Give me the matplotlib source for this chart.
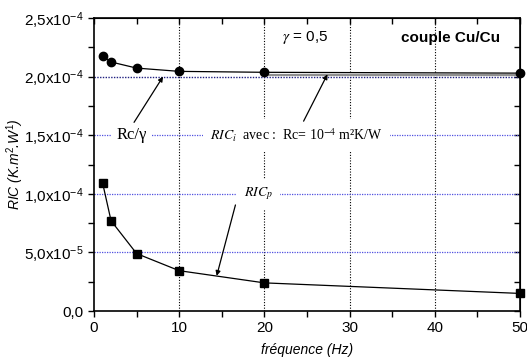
import matplotlib
matplotlib.use("Agg")
import matplotlib.pyplot as plt
from matplotlib.ticker import FixedLocator, MultipleLocator

plt.rcParams['font.family'] = ['Liberation Sans', 'DejaVu Sans']
plt.rcParams['mathtext.fontset'] = 'custom'
plt.rcParams['mathtext.rm'] = 'Liberation Sans'
plt.rcParams['mathtext.it'] = 'Liberation Sans:italic'
plt.rcParams['mathtext.bf'] = 'Liberation Sans:bold'

# Measured frequencies (Hz)
freq = [1, 2, 5, 10, 20, 50]
# Interface resistance with gamma correction (circles)
ric_i = [2.176e-4, 2.125e-4, 2.073e-4, 2.045e-4, 2.037e-4, 2.03e-4]
# Interface resistance RIC_p (squares)
ric_p = [1.095e-4, 0.77e-4, 0.49e-4, 0.344e-4, 0.24e-4, 0.15e-4]
# Reference level Rc/gamma
rc_gamma = 2.0e-4

x_ticks = [0, 10, 20, 30, 40, 50]
y_ticks = [0, 5e-5, 1e-4, 1.5e-4, 2e-4, 2.5e-4]
y_tick_labels = ["0,0", "5,0x10$^{-5}$", "1,0x10$^{-4}$", "1,5x10$^{-4}$",
                 "2,0x10$^{-4}$", "2,5x10$^{-4}$"]

blue = '#5050e0'

fig = plt.figure(figsize=(5.27, 3.61), dpi=100)
ax = fig.add_axes([0.1784, 0.1385, 0.8083, 0.8115])

ax.set_xlim(0, 50)
ax.set_ylim(0, 2.5e-4)

# vertical dotted grid
for xv in [10, 20, 30, 40]:
    ax.axvline(xv, color='black', linestyle=(0, (1, 1.5)), lw=0.8, zorder=1)
# horizontal blue dotted guides
for yv in [5e-5, 1e-4, 1.5e-4]:
    ax.axhline(yv, color=blue, linestyle=(0, (1, 1)), lw=0.9, zorder=1)
ax.axhline(rc_gamma, color='#202080', linestyle=(0, (1, 1)), lw=1.0, zorder=2)
ax.plot([20, 50], [2.016e-4, 2.016e-4], color='#909090', lw=1.6, zorder=2)

ax.plot(freq, ric_i, color='black', lw=0.9, marker='o', markersize=6, zorder=4, clip_on=False)
ax.plot(freq, ric_p, color='black', lw=0.9, marker='s', markersize=5.5, zorder=4, clip_on=False)

ax.text(24.8, 2.33e-4, r'$\gamma$ = 0,5', fontsize=11, ha='center', va='center',
        family=['Liberation Sans'], math_fontfamily='stix')
ax.text(41.8, 2.33e-4, 'couple Cu/Cu', fontsize=11, fontweight='bold', ha='center', va='center')
ax.text(2.6, 1.5e-4, 'Rc/γ', fontsize=12, ha='left', va='center',
        family=['Liberation Serif'], bbox=dict(facecolor='white', edgecolor='none', pad=3.5), zorder=3)
ax.text(13.6, 1.5e-4, r'$RIC_{i}$  avec :  Rc= 10$^{-4}$ m²K/W', fontsize=10, ha='left', va='center',
        family=['Liberation Serif'], math_fontfamily='stix',
        bbox=dict(facecolor='white', edgecolor='none', pad=5), zorder=3)
ax.text(17.6, 1.0e-4, r'$RIC_{p}$', fontsize=10, ha='left', va='center',
        math_fontfamily='stix', bbox=dict(facecolor='white', edgecolor='none', pad=5), zorder=3)

arrow = dict(arrowstyle='-|>', color='black', lw=0.9, mutation_scale=7, shrinkA=0, shrinkB=0)
ax.annotate('', xy=(8.1, 2.0e-4), xytext=(4.7, 1.61e-4), arrowprops=arrow, zorder=5)
ax.annotate('', xy=(27.4, 2.02e-4), xytext=(24.6, 1.62e-4), arrowprops=arrow, zorder=5)
ax.annotate('', xy=(14.4, 0.30e-4), xytext=(16.6, 0.905e-4), arrowprops=arrow, zorder=5)

ax.xaxis.set_major_locator(FixedLocator(x_ticks))
ax.xaxis.set_minor_locator(MultipleLocator(5))
ax.yaxis.set_major_locator(FixedLocator(y_ticks))
ax.yaxis.set_minor_locator(MultipleLocator(2.5e-5))
ax.set_yticklabels(y_tick_labels)
ax.set_xticklabels([str(v) for v in x_ticks])

ax.tick_params(axis='both', which='both', direction='out', length=4, width=1,
               labelsize=11, colors='black', top=False, right=False)
ax.tick_params(axis='x', which='both', pad=3)
for sp in ax.spines.values():
    sp.set_linewidth(1.2)

# inward ticks on top and right
ax2 = ax.secondary_xaxis('top')
ax2.xaxis.set_major_locator(FixedLocator(x_ticks))
ax2.xaxis.set_minor_locator(MultipleLocator(5))
ax2.tick_params(which='both', direction='in', length=4, width=1, labeltop=False)
ax3 = ax.secondary_yaxis('right')
ax3.yaxis.set_major_locator(FixedLocator(y_ticks))
ax3.yaxis.set_minor_locator(MultipleLocator(2.5e-5))
ax3.tick_params(which='both', direction='in', length=4, width=1, labelright=False)

ax.set_xlabel('fréquence (Hz)', fontsize=10, style='italic', labelpad=6)
ax.set_ylabel('RIC (K.m$^{2}$.W$^{1}$)', fontsize=10, style='italic')
ax.yaxis.set_label_coords(-0.16, 0.5)

fig.savefig('out.png', dpi=100)
